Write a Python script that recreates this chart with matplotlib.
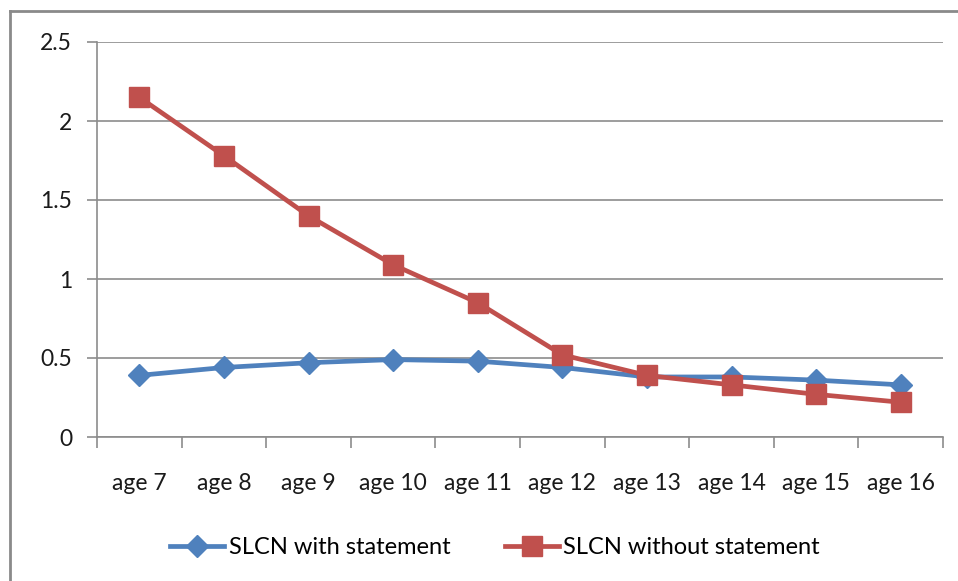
import matplotlib
matplotlib.use("Agg")
import matplotlib.pyplot as plt
from matplotlib.lines import Line2D

categories = ["age 7", "age 8", "age 9", "age 10", "age 11", "age 12", "age 13", "age 14", "age 15", "age 16"]
with_statement = [0.39, 0.44, 0.47, 0.49, 0.48, 0.44, 0.38, 0.38, 0.36, 0.33]
without_statement = [2.15, 1.78, 1.40, 1.09, 0.85, 0.52, 0.39, 0.33, 0.27, 0.22]
yticks = [0, 0.5, 1, 1.5, 2, 2.5]
ytick_labels = ["0", "0.5", "1", "1.5", "2", "2.5"]

plt.rcParams['font.family'] = ['Lato', 'DejaVu Sans']
blue = "#4F81BD"
red = "#C0504D"
grid = "#8C8C8C"
fs = 16.5

fig = plt.figure(figsize=(9.58, 5.81), dpi=100)
ax = fig.add_axes([97/958, 1-437/581, (943-97)/958, (437-42)/581])

x = list(range(len(categories)))
ax.plot(x, with_statement, color=blue, lw=3.4, marker='D', markersize=11, zorder=3, label="SLCN with statement")
ax.plot(x, without_statement, color=red, lw=3.4, marker='s', markersize=14, zorder=4, label="SLCN without statement")

ax.set_xlim(-0.5, len(categories)-0.5)
ax.set_ylim(0, 2.5)
ax.set_yticks(yticks)
ax.set_yticklabels(ytick_labels)
ax.set_xticks(x)
ax.set_xticklabels(categories)
ax.set_xticks([i - 0.5 for i in range(len(categories)+1)], minor=True)
ax.tick_params(axis='x', which='major', length=0, pad=26, labelsize=fs, colors='#1a1a1a')
ax.tick_params(axis='x', which='minor', length=8, width=1.2, color=grid, direction='out')
ax.tick_params(axis='y', length=7, width=1.2, color=grid, pad=11, labelsize=fs, labelcolor='#1a1a1a')

ax.grid(axis='y', color=grid, lw=1.2)
ax.set_axisbelow(True)
for s in ['top', 'right']:
    ax.spines[s].set_visible(False)
for s in ['left', 'bottom']:
    ax.spines[s].set_color(grid)
    ax.spines[s].set_linewidth(1.2)

handles = [Line2D([], [], color=blue, lw=3.4, marker='D', markersize=11),
           Line2D([], [], color=red, lw=3.4, marker='s', markersize=14)]
fig.legend(handles, ["SLCN with statement", "SLCN without statement"],
           loc='center', bbox_to_anchor=(495/958, 1-548/581), ncol=2, frameon=False,
           fontsize=17, handlelength=2.3, handletextpad=0.18, columnspacing=2.3)

# outer chart border
fig.add_artist(Line2D([10/958, 10/958], [0, 1-11/581], transform=fig.transFigure, color='#8A8A8A', lw=2))
fig.add_artist(Line2D([10/958, 1], [1-11/581, 1-11/581], transform=fig.transFigure, color='#8A8A8A', lw=2))

fig.savefig("out.png", dpi=100)
